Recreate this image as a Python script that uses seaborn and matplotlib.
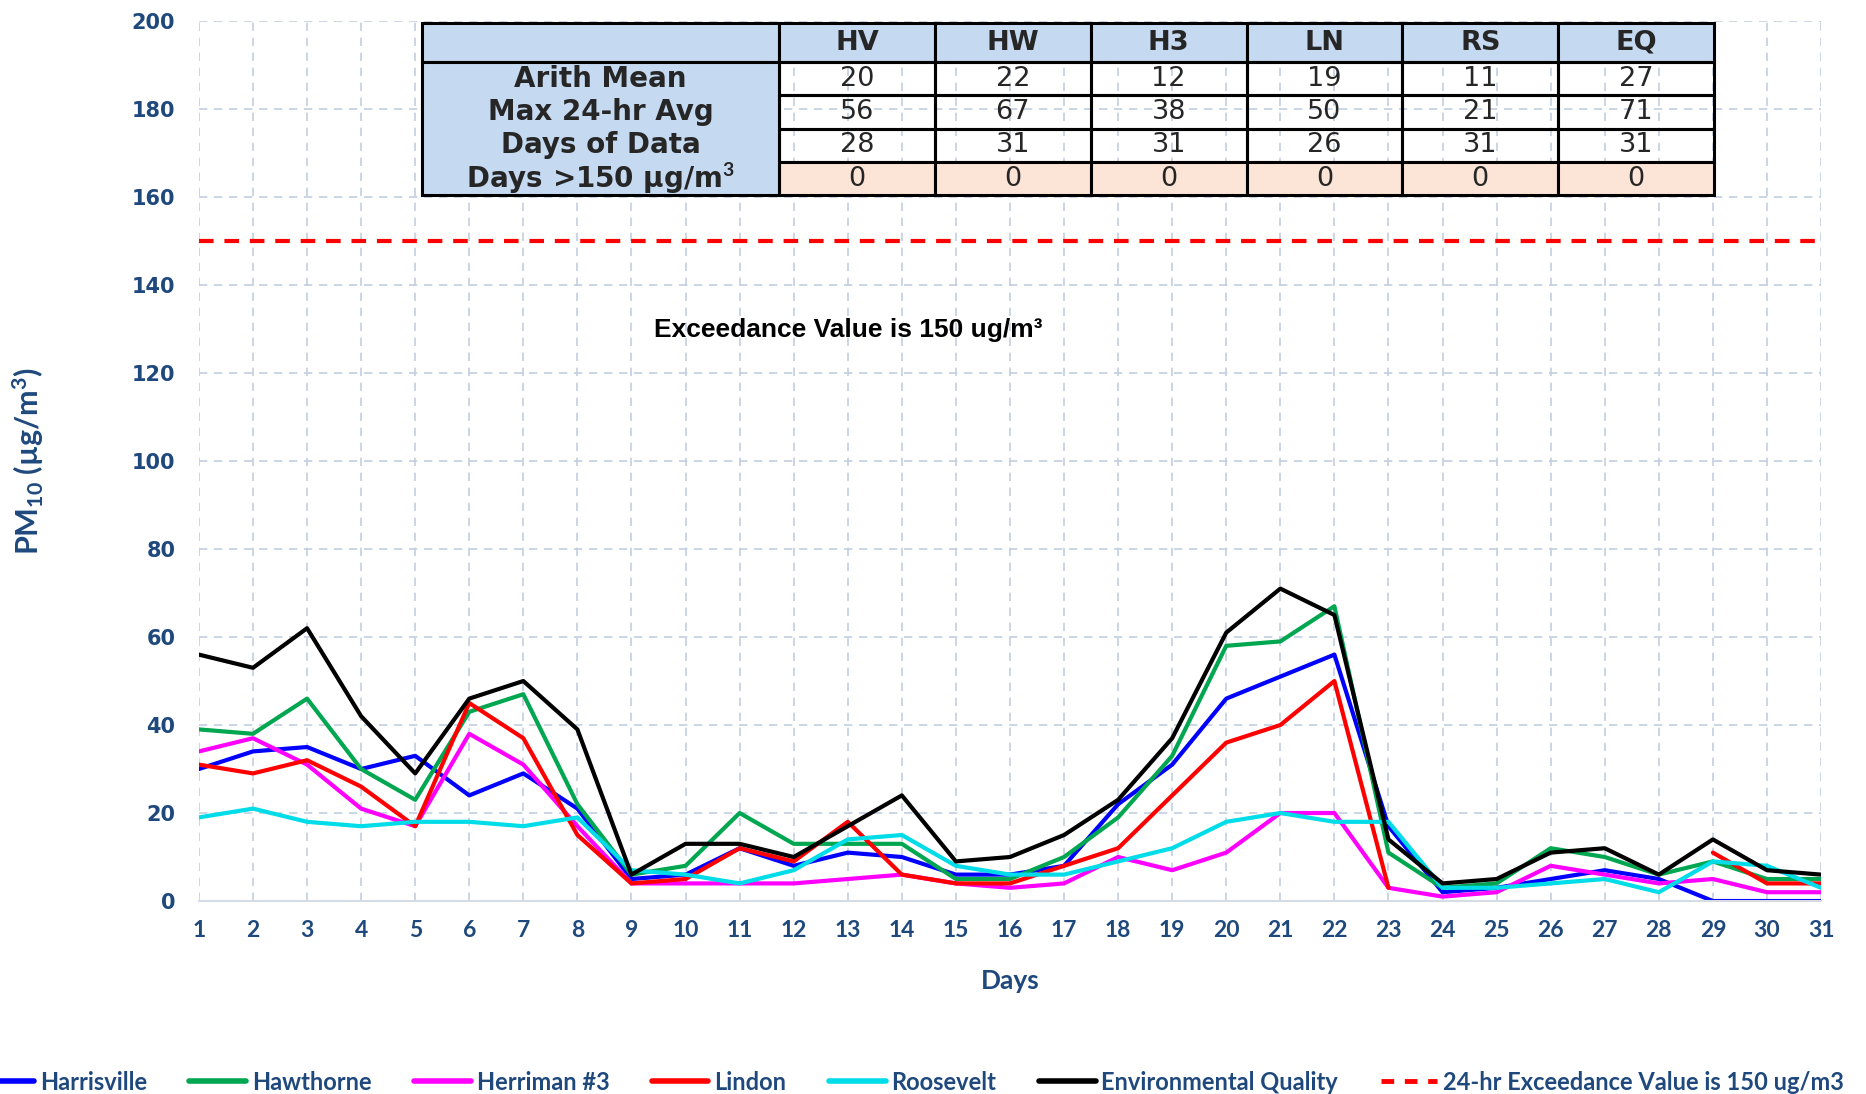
import seaborn as sns
import matplotlib.pyplot as plt
import matplotlib.lines as mlines
import matplotlib.patches as mpatches
import numpy as np
import pandas as pd

# daily PM10 values (ug/m3)
days = list(range(1, 32))
harrisville = [30, 34, 35, 30, 33, 24, 29, 21, 5, 6, 12, 8, 11, 10, 6, 6, 8, 22, 31, 46, 51, 56, 17, 2, 3, 5, 7, 5, 0, 0, 0]
hawthorne = [39, 38, 46, 30, 23, 43, 47, 22, 6, 8, 20, 13, 13, 13, 5, 5, 10, 19, 33, 58, 59, 67, 11, 3, 4, 12, 10, 6, 9, 5, 5]
herriman = [34, 37, 31, 21, 17, 38, 31, 17, 4, 4, 4, 4, 5, 6, 4, 3, 4, 10, 7, 11, 20, 20, 3, 1, 2, 8, 6, 4, 5, 2, 2]
lindon = [31, 29, 32, 26, 17, 45, 37, 15, 4, 5, 12, 9, 18, 6, 4, 4, 8, 12, 24, 36, 40, 50, 3,
          np.nan, np.nan, np.nan, np.nan, np.nan, 11, 4, 4]
roosevelt = [19, 21, 18, 17, 18, 18, 17, 19, 7, 6, 4, 7, 14, 15, 8, 6, 6, 9, 12, 18, 20, 18, 18, 3, 3, 4, 5, 2, 9, 8, 3]
env_quality = [56, 53, 62, 42, 29, 46, 50, 39, 6, 13, 13, 10, 17, 24, 9, 10, 15, 23, 37, 61, 71, 65, 14, 4, 5, 11, 12, 6, 14, 7, 6]

stations = ["Harrisville", "Hawthorne", "Herriman #3", "Lindon", "Roosevelt", "Environmental Quality"]
series = [harrisville, hawthorne, herriman, lindon, roosevelt, env_quality]

EXCEEDANCE = 150
exceed_label = "24-hr Exceedance Value is 150 ug/m3"

# summary table
table_cols = ["HV", "HW", "H3", "LN", "RS", "EQ"]
row_labels = ["Arith Mean", "Max 24-hr Avg", "Days of Data", "Days >150 µg/m$^3$"]
arith_mean = [20, 22, 12, 19, 11, 27]
max_avg = [56, 67, 38, 50, 21, 71]
days_data = [28, 31, 31, 26, 31, 31]
days_over = [0, 0, 0, 0, 0, 0]

TEXT_COLOR = "#1F497D"
GRID_COLOR = "#C3CEE0"
HEAD_BLUE = "#C5D9F1"
PINK = "#FCE4D6"
colors = {
    "Harrisville": "#0000FF",
    "Hawthorne": "#00A650",
    "Herriman #3": "#FF00FF",
    "Lindon": "#FF0000",
    "Roosevelt": "#00DCE8",
    "Environmental Quality": "#000000",
}

# long form, with a segment id so gaps (missing days) break the line
rows = []
for name, values in zip(stations, series):
    seg = 0
    for d, v in zip(days, values):
        if np.isnan(v):
            seg += 1
            continue
        rows.append({"day": d, "pm10": v, "station": name, "seg": seg})
df = pd.DataFrame(rows)

sns.set_style("white")
plt.rcParams["mathtext.fontset"] = "custom"
plt.rcParams["mathtext.rm"] = "Lato:bold"
plt.rcParams["mathtext.it"] = "Lato:bold"
plt.rcParams["mathtext.bf"] = "Lato:bold"

fig = plt.figure(figsize=(18.66, 10.94), dpi=100)
ax = fig.add_axes([0.1066, 0.1764, 0.8693, 0.8044])

sns.lineplot(data=df, x="day", y="pm10", hue="station", units="seg", estimator=None,
             hue_order=stations, palette=colors, linewidth=3.0, legend=False, ax=ax)
ax.axhline(EXCEEDANCE, color="#FF0000", linestyle=(0, (3.5, 2.6)), linewidth=3.0)

ax.set_xlim(1, 31)
ax.set_ylim(0, 200)
ax.set_xticks(days)
ax.set_yticks(range(0, 201, 20))
ax.set_axisbelow(True)
ax.grid(True, linestyle=(0, (5, 4)), color=GRID_COLOR, linewidth=1.2)
for side in ["top", "left", "right"]:
    ax.spines[side].set_visible(False)
ax.spines["bottom"].set_color("#D6DCE6")
ax.spines["bottom"].set_linewidth(1.5)

ax.tick_params(axis="both", length=0)
ax.tick_params(axis="y", pad=17)
ax.tick_params(axis="x", pad=14)
for lab in ax.get_yticklabels():
    lab.set_fontfamily("DejaVu Sans")
    lab.set_fontweight("bold")
    lab.set_fontsize(15)
    lab.set_color(TEXT_COLOR)
for lab in ax.get_xticklabels():
    lab.set_fontfamily("Lato")
    lab.set_fontweight("bold")
    lab.set_fontsize(16.5)
    lab.set_color(TEXT_COLOR)

ax.set_xlabel("Days", fontsize=19, fontweight="bold", family="Lato", color=TEXT_COLOR, labelpad=20)
ax.set_ylabel("PM$_{10}$ (µg/m$^{3}$)", fontsize=22, fontweight="bold", family="Lato", color=TEXT_COLOR)
ax.yaxis.set_label_coords(-0.094, 0.5)

ax.text(0.40, 0.649, "Exceedance Value is 150 ug/m³", transform=ax.transAxes,
        ha="center", va="center", fontsize=19, fontweight="bold", family="Liberation Sans", color="black")

# table
cell_text = [[""] + table_cols]
for lab, vals in zip(row_labels, [arith_mean, max_avg, days_data, days_over]):
    cell_text.append([lab] + [str(v) for v in vals])

tb_x, tb_y, tb_w, tb_h = 0.1375, 0.802, 0.7965, 0.1955
col0_w, col_w = 357, 155.7
head_h, row_h = 39, 33.5
tbl = ax.table(cellText=cell_text, cellLoc="center", bbox=[tb_x, tb_y, tb_w, tb_h])
tbl.auto_set_font_size(False)
tbl.set_zorder(3)
for (r, c), cell in tbl.get_celld().items():
    cell.set_width(col0_w if c == 0 else col_w)
    cell.set_height(head_h if r == 0 else row_h)
    cell.set_linewidth(2.2)
    cell.set_edgecolor("black")
    txt = cell.get_text()
    txt.set_fontsize(19.5)
    txt.set_fontfamily("DejaVu Sans")
    if r == 0:
        cell.set_facecolor(HEAD_BLUE)
        txt.set_fontweight("bold")
    elif c == 0:
        cell.set_facecolor(HEAD_BLUE)
        cell.set_edgecolor(HEAD_BLUE)
        txt.set_fontweight("bold")
        txt.set_fontsize(20)
    elif r == len(cell_text) - 1:
        cell.set_facecolor(PINK)
    else:
        cell.set_facecolor("none")

# outline of the merged label column
frac_w = col0_w / (col0_w + len(table_cols) * col_w)
frac_h = head_h / (head_h + len(row_labels) * row_h)
ax.add_patch(mpatches.Rectangle((tb_x, tb_y), tb_w * frac_w, tb_h * (1 - frac_h),
                                transform=ax.transAxes, fill=False, edgecolor="black",
                                linewidth=2.2, zorder=4, clip_on=False))

# legend along the bottom
handles = [mlines.Line2D([], [], color=colors[s], linewidth=4, label=s) for s in stations]
handles.append(mlines.Line2D([], [], color="#FF0000", linewidth=3.5, linestyle=(0, (2.6, 2.2)), label=exceed_label))
fig.legend(handles=handles, loc="lower center", bbox_to_anchor=(0.488, -0.019), ncol=7, frameon=False,
           prop={"family": "Lato", "weight": "bold", "size": 17}, labelcolor=TEXT_COLOR,
           handlelength=2.4, handletextpad=0.25, columnspacing=1.8)

fig.savefig("out.png", dpi=100)
